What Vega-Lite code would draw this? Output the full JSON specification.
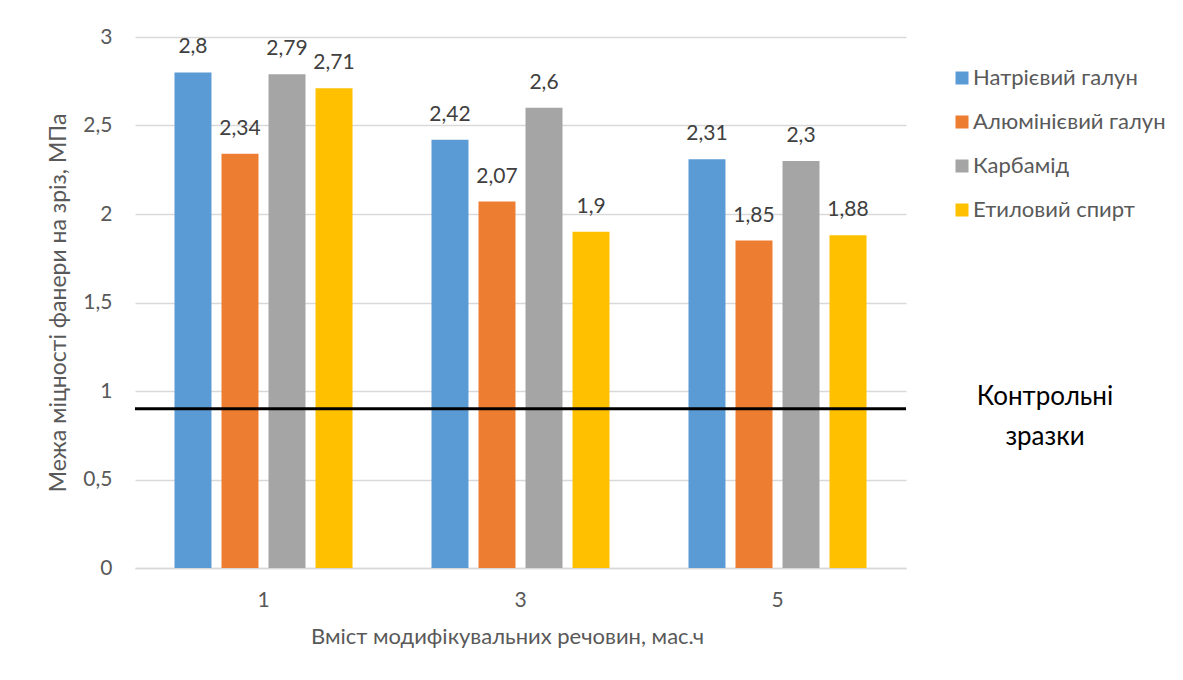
{
  "$schema": "https://vega.github.io/schema/vega-lite/v6.json",
  "width": 771,
  "height": 531,
  "autosize": {"type": "none"},
  "padding": {"left": 135, "top": 37, "right": 277, "bottom": 112},
  "background": "white",
  "config": {
    "locale": {"number": {"decimal": ",", "thousands": " ", "grouping": [3], "currency": ["", ""]}},
    "font": "Lato",
    "view": {"stroke": null}
  },
  "data": {
    "values": [
      {"g": "1", "s": "Натрієвий галун", "v": 2.8},
      {"g": "1", "s": "Алюмінієвий галун", "v": 2.34},
      {"g": "1", "s": "Карбамід", "v": 2.79},
      {"g": "1", "s": "Етиловий спирт", "v": 2.71},
      {"g": "3", "s": "Натрієвий галун", "v": 2.42},
      {"g": "3", "s": "Алюмінієвий галун", "v": 2.07},
      {"g": "3", "s": "Карбамід", "v": 2.6},
      {"g": "3", "s": "Етиловий спирт", "v": 1.9},
      {"g": "5", "s": "Натрієвий галун", "v": 2.31},
      {"g": "5", "s": "Алюмінієвий галун", "v": 1.85},
      {"g": "5", "s": "Карбамід", "v": 2.3},
      {"g": "5", "s": "Етиловий спирт", "v": 1.88}
    ]
  },
  "encoding": {
    "x": {
      "field": "g", "type": "nominal",
      "scale": {"paddingInner": 0, "paddingOuter": 0},
      "axis": {
        "title": "Вміст модифікувальних речовин, мас.ч",
        "labelAngle": 0, "labelFontSize": 21, "labelColor": "#595959", "labelPadding": 21,
        "titleFontSize": 22, "titleFontWeight": "normal", "titleColor": "#595959", "titlePadding": 16,
        "titleX": 372,
        "ticks": false, "domainColor": "#D9D9D9", "domainWidth": 1.5, "grid": false
      }
    },
    "y": {
      "field": "v", "type": "quantitative",
      "scale": {"domain": [0, 3], "nice": false},
      "axis": {
        "title": "Межа міцності фанери на зріз, МПа",
        "values": [0, 0.5, 1, 1.5, 2, 2.5, 3],
        "format": "~g",
        "labelFontSize": 21, "labelColor": "#595959", "labelPadding": 23,
        "titleFontSize": 23, "titleFontWeight": "normal", "titleColor": "#595959", "titlePadding": 12,
        "ticks": false, "domain": false, "gridColor": "#D9D9D9", "gridWidth": 1.5
      }
    },
    "xOffset": {
      "field": "s", "type": "nominal",
      "sort": ["Натрієвий галун", "Алюмінієвий галун", "Карбамід", "Етиловий спирт"],
      "scale": {"paddingInner": 0.213, "paddingOuter": 0.84}
    }
  },
  "layer": [
    {
      "mark": {"type": "bar"},
      "encoding": {
        "color": {
          "field": "s", "type": "nominal",
          "sort": ["Натрієвий галун", "Алюмінієвий галун", "Карбамід", "Етиловий спирт"],
          "scale": {"domain": ["Натрієвий галун", "Алюмінієвий галун", "Карбамід", "Етиловий спирт"], "range": ["#5B9BD5", "#ED7D31", "#A5A5A5", "#FFC000"]},
          "legend": {
            "title": null, "orient": "none", "legendX": 816, "legendY": 30,
            "symbolType": "square", "symbolSize": 169, "symbolStrokeWidth": 0,
            "labelFontSize": 22, "labelColor": "#595959", "labelOffset": 0,
            "rowPadding": 22, "labelLimit": 300, "padding": 0
          }
        }
      }
    },
    {
      "mark": {"type": "text", "baseline": "middle", "dy": -25, "fontSize": 21, "color": "#404040"},
      "encoding": {
        "text": {"field": "v", "type": "quantitative", "format": ".2~f"}
      }
    },
    {
      "data": {"values": [{"y": 0.9, "label": "Контрольні зразки"}]},
      "mark": {"type": "rule", "strokeWidth": 3},
      "encoding": {
        "x": null,
        "xOffset": null,
        "y": {"field": "y", "type": "quantitative"},
        "stroke": {
          "field": "label", "type": "nominal",
          "scale": {"range": ["black"]},
          "legend": {
            "title": ["Контрольні", "зразки"],
            "titleFontSize": 26, "titleFontWeight": "normal", "titleColor": "black",
            "titleAlign": "center", "titleAnchor": "start", "titleLineHeight": 40, "titleLimit": 400,
            "orient": "none", "legendX": 842, "legendY": 347,
            "symbolOpacity": 0, "symbolSize": 0, "symbolStrokeWidth": 0,
            "labelExpr": "''", "labelFontSize": 1, "labelOffset": 0, "padding": 0
          }
        }
      }
    }
  ]
}
